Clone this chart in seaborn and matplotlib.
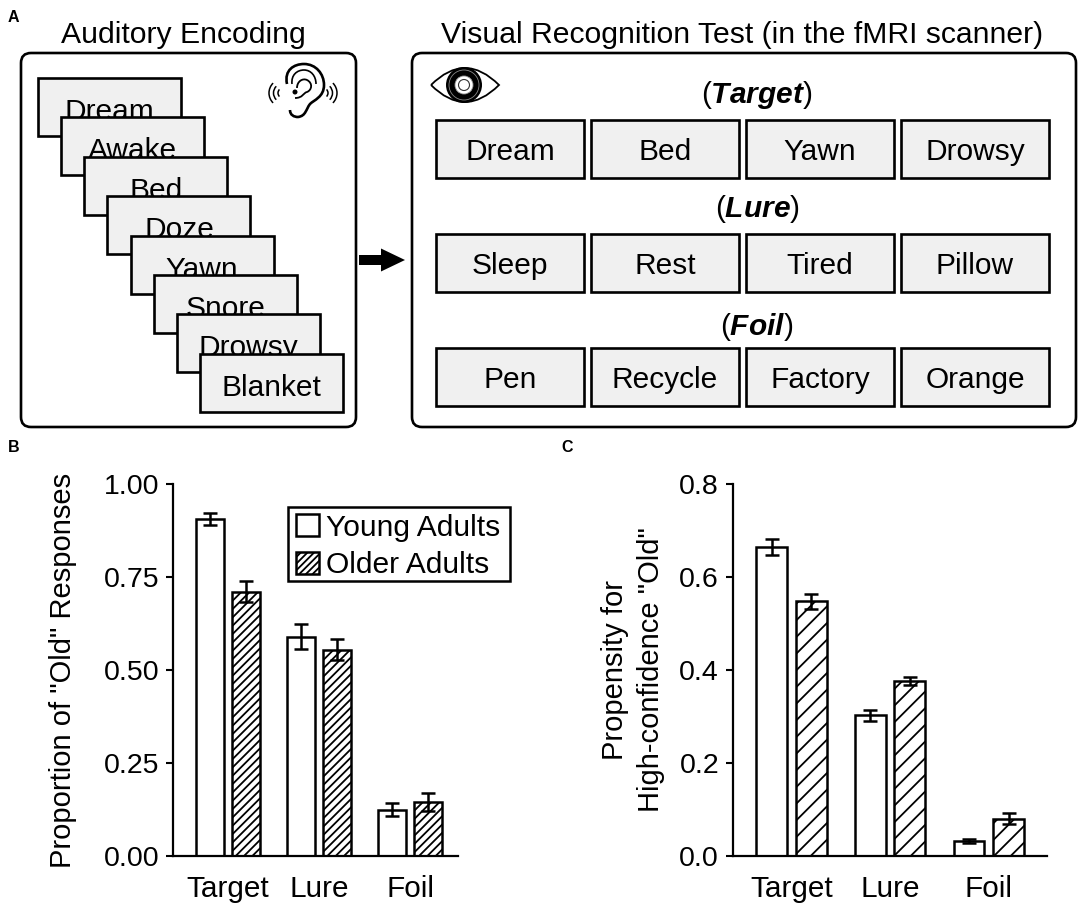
import matplotlib
matplotlib.use('Agg')
import matplotlib.pyplot as plt
import matplotlib.patches as mpatches
from matplotlib.path import Path
import seaborn as sns
import pandas as pd

sns.set_theme(style="ticks")
plt.rcParams['font.family'] = ['Liberation Sans', 'DejaVu Sans']
plt.rcParams['mathtext.fontset'] = 'custom'
plt.rcParams['mathtext.rm'] = 'Liberation Sans'
plt.rcParams['mathtext.bfit'] = 'Liberation Sans:italic:bold'
plt.rcParams['hatch.linewidth'] = 1.3
plt.rcParams['hatch.color'] = 'black'

W, H = 1084, 906

# --- data ---
conditions = ['Target', 'Lure', 'Foil']
groups = ['Young Adults', 'Older Adults']

old_young = [0.905, 0.59, 0.125]
old_older = [0.71, 0.555, 0.145]
old_young_err = [0.016, 0.033, 0.018]
old_older_err = [0.028, 0.027, 0.025]

conf_young = [0.665, 0.303, 0.033]
conf_older = [0.548, 0.377, 0.08]
conf_young_err = [0.017, 0.012, 0.004]
conf_older_err = [0.016, 0.009, 0.012]

encoding_words = ['Dream', 'Awake', 'Bed', 'Doze', 'Yawn', 'Snore', 'Drowsy', 'Blanket']
test_rows = ['Target', 'Lure', 'Foil']
test_words = [['Dream', 'Bed', 'Yawn', 'Drowsy'],
              ['Sleep', 'Rest', 'Tired', 'Pillow'],
              ['Pen', 'Recycle', 'Factory', 'Orange']]

fig = plt.figure(figsize=(W / 100, H / 100), dpi=100, facecolor='white')

# --- panel A, drawn in pixel coordinates ---
top = fig.add_axes([0, 0, 1, 1], zorder=0)
top.set_xlim(0, W)
top.set_ylim(H, 0)
top.axis('off')


def word_box(x, y, w, h, word, z=2, dy=0):
    top.add_patch(mpatches.Rectangle((x, y), w, h, fc='#f0f0f0', ec='black', lw=1.9, zorder=z))
    top.text(x + w / 2, y + h / 2 + dy, word, ha='center', va='center', fontsize=21.5, color='black', zorder=z)


def outer_box(x0, x1):
    top.add_patch(mpatches.FancyBboxPatch((x0 + 10, 63), x1 - x0 - 20, 354,
                                          boxstyle='round,pad=10,rounding_size=10',
                                          fc='white', ec='black', lw=1.9, zorder=1))


outer_box(21, 356)
outer_box(412, 1076)

top.text(183, 35, 'Auditory Encoding', ha='center', va='center', fontsize=21.7, color='black')
top.text(742, 35, 'Visual Recognition Test (in the fMRI scanner)', ha='center', va='center', fontsize=21.7, color='black')

for i, word in enumerate(encoding_words):
    word_box(38 + 23.15 * i, 78 + 39.4 * i, 143, 58, word, z=2 + i, dy=5)

col_x = [436, 591, 746, 901]
row_y = [120, 234, 348]
label_y = [95, 209, 327]
for r, row in enumerate(test_rows):
    top.text(757, label_y[r], '($\\mathbfit{' + row + '}$)', ha='center', va='center', fontsize=21.5, color='black')
    for c, word in enumerate(test_words[r]):
        word_box(col_x[c], row_y[r], 148, 58, word, z=2, dy=3)

top.add_patch(mpatches.FancyArrow(359, 260, 46, 0, width=10, head_width=23, head_length=24,
                                  length_includes_head=True, fc='black', ec='none', zorder=3))

# eye
eye = Path([(431, 85), (465, 51), (499, 85), (465, 119), (431, 85)],
           [Path.MOVETO, Path.CURVE3, Path.CURVE3, Path.CURVE3, Path.CURVE3])
top.add_patch(mpatches.PathPatch(eye, fc='white', ec='black', lw=1.3, zorder=3))
top.add_patch(mpatches.Circle((464, 85), 18, fc='black', ec='none', zorder=4))
top.add_patch(mpatches.Circle((464, 85), 15, fc='none', ec='#888888', lw=0.6, zorder=5))
top.add_patch(mpatches.Circle((464, 85), 9, fc='white', ec='#999999', lw=0.6, zorder=5))
top.add_patch(mpatches.Circle((464, 85), 5.5, fc='white', ec='#333333', lw=0.8, zorder=5))

# ear
ear_outer = Path([(287, 84),
                  (284, 70), (294, 64), (304, 64),
                  (316, 64), (324, 74), (324, 85),
                  (324, 97), (314, 100), (310, 104),
                  (306, 109), (306, 116), (298, 117),
                  (294, 117), (290, 115), (290, 110)],
                 [Path.MOVETO] + [Path.CURVE4] * 15)
ear_mid = Path([(292, 84),
                (291, 75), (297, 70), (304, 70),
                (311, 70), (316, 76), (316, 84)],
               [Path.MOVETO] + [Path.CURVE4] * 6)
ear_in = Path([(297, 88),
               (297, 81), (303, 78), (307, 80),
               (313, 83), (312, 90), (307, 92),
               (303, 93), (303, 98), (295, 98)],
              [Path.MOVETO] + [Path.CURVE4] * 9)
for p, lw in [(ear_outer, 1.9), (ear_mid, 1.2), (ear_in, 1.3)]:
    top.add_patch(mpatches.PathPatch(p, fc='none', ec='black', lw=lw, zorder=3))
top.add_patch(mpatches.Circle((295, 92), 2.5, fc='black', ec='none', zorder=3))
for cx, a0, a1 in [(283, 135, 225), (323, -45, 45)]:
    for s in (10, 19, 28):
        top.add_patch(mpatches.Arc((cx, 93), s, s, theta1=a0, theta2=a1, ec='black', lw=1.1, zorder=3))

top.text(8, 18, 'A', fontsize=11.5, fontweight='bold', va='center', color='black')
top.text(8, 447, 'B', fontsize=11.5, fontweight='bold', va='center', color='black')
top.text(561, 447, 'C', fontsize=11.5, fontweight='bold', va='center', color='black')


# --- panels B and C ---
def bar_panel(rect, young, older, young_err, older_err, ylim, yticks, ylabels, ylabel, xlim, pad, hatch):
    l, t, r, b = rect
    ax = fig.add_axes([l / W, 1 - b / H, (r - l) / W, (b - t) / H], zorder=2)
    ax.patch.set_alpha(0)
    df = pd.DataFrame({
        'Condition': conditions * 2,
        'Group': [groups[0]] * 3 + [groups[1]] * 3,
        'Value': young + older,
    })
    sns.barplot(data=df, x='Condition', y='Value', hue='Group', order=conditions, hue_order=groups,
                ax=ax, errorbar=None, width=0.8, gap=0.22, legend=False,
                palette=['white', 'white'], edgecolor='black', linewidth=1.8, saturation=1)
    for container, errs, h in zip(ax.containers, [young_err, older_err], ['', hatch]):
        xs = []
        ys = []
        for bar in container:
            bar.set_hatch(h)
            xs.append(bar.get_x() + bar.get_width() / 2)
            ys.append(bar.get_height())
        ax.errorbar(xs, ys, yerr=errs, fmt='none', ecolor='black', elinewidth=1.8,
                    capsize=5, capthick=1.8, zorder=5)
    ax.set_xlim(*xlim)
    ax.set_ylim(*ylim)
    ax.set_yticks(yticks)
    ax.set_yticklabels(ylabels)
    ax.set_xlabel('')
    ax.set_ylabel(ylabel, fontsize=21, color='black', labelpad=pad, linespacing=1.4)
    ax.tick_params(axis='y', labelsize=20.5, width=1.5, length=5, color='black', labelcolor='black', pad=5)
    ax.tick_params(axis='x', labelsize=21.4, length=0, labelcolor='black', pad=13.5)
    sns.despine(ax=ax)
    for side in ['left', 'bottom']:
        ax.spines[side].set_linewidth(1.6)
        ax.spines[side].set_color('black')
    return ax


ax_b = bar_panel((173, 484, 458, 856), old_young, old_older, old_young_err, old_older_err,
                 (0, 1.0), [0, 0.25, 0.5, 0.75, 1.0], ['0.00', '0.25', '0.50', '0.75', '1.00'],
                 'Proportion of "Old" Responses', (-0.604, 2.527), 19, '////')
ax_c = bar_panel((733, 484, 1047, 856), conf_young, conf_older, conf_young_err, conf_older_err,
                 (0, 0.8), [0, 0.2, 0.4, 0.6, 0.8], ['0.0', '0.2', '0.4', '0.6', '0.8'],
                 'Propensity for\nHigh-confidence "Old"', (-0.593, 2.59), 10, '//')

# legend frame is drawn apart so that it can be wider than the entries need
top.add_patch(mpatches.Rectangle((288, 507), 222, 74, fc='white', ec='black', lw=1.8, zorder=2))
handles = [mpatches.Patch(fc='white', ec='black', lw=1.8, label=groups[0]),
           mpatches.Patch(fc='white', ec='black', lw=1.8, hatch='/////', label=groups[1])]
leg = ax_b.legend(handles=handles, loc='upper left', bbox_to_anchor=((296 - 173) / 285, 1 - (513.5 - 484) / 372),
                  borderaxespad=0, fontsize=21.6, frameon=False,
                  handlelength=0.75, handleheight=0.75, handletextpad=0.24,
                  labelspacing=0.33, borderpad=0, labelcolor='black')

fig.savefig('out.png', dpi=100, facecolor='white')
